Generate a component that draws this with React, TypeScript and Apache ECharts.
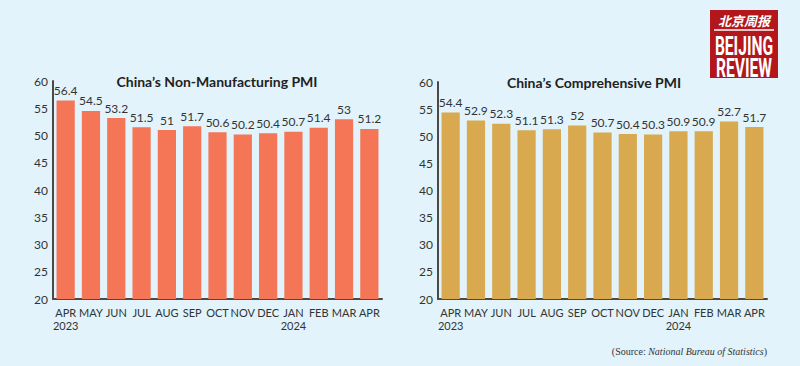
import React, { useEffect, useRef } from "react";
import * as echarts from "echarts";

const months = ["APR\n2023", "MAY", "JUN", "JUL", "AUG", "SEP", "OCT", "NOV", "DEC", "JAN\n2024", "FEB", "MAR", "APR"];
const nonManufacturing = [56.4, 54.5, 53.2, 51.5, 51, 51.7, 50.6, 50.2, 50.4, 50.7, 51.4, 53, 51.2];
const comprehensive = [54.4, 52.9, 52.3, 51.1, 51.3, 52, 50.7, 50.4, 50.3, 50.9, 50.9, 52.7, 51.7];
const titles = ["China\u2019s Non-Manufacturing PMI", "China\u2019s Comprehensive PMI"];
const yMin = 20;
const yMax = 60;
const yStep = 5;

const FONT = "Lato, 'Open Sans', sans-serif";

export default function App() {
  const ref = useRef<HTMLDivElement>(null);
  useEffect(() => {
    if (!ref.current) return;
    const chart = echarts.init(ref.current, null, { renderer: "svg" });
    const grids = [
      { left: 53, top: 81, width: 329, height: 218 },
      { left: 438, top: 82, width: 329, height: 217 },
    ];
    const xAxis = grids.map((_, i) => ({
      type: "category",
      gridIndex: i,
      data: months,
      axisLine: { lineStyle: { color: "#4a4a4a", width: 2 } },
      axisTick: { show: false },
      axisLabel: {
        interval: 0,
        color: "#333",
        fontSize: 11,
        fontFamily: FONT,
        margin: 7,
        lineHeight: 13,
      },
    }));
    const yAxis = grids.map((_, i) => ({
      type: "value",
      gridIndex: i,
      min: yMin,
      max: yMax,
      interval: yStep,
      axisLine: { show: true, lineStyle: { color: "#4a4a4a", width: 2 } },
      axisTick: { show: false },
      splitLine: { show: false },
      axisLabel: { color: "#333", fontSize: 12, fontFamily: FONT, margin: 5 },
    }));
    const mkSeries = (data: number[], i: number, color: string) => ({
      type: "bar",
      xAxisIndex: i,
      yAxisIndex: i,
      data,
      barCategoryGap: "28%",
      itemStyle: { color },
      label: {
        show: true,
        position: "top",
        distance: 4,
        color: "#333",
        fontSize: 12,
        fontFamily: FONT,
      },
    });
    const logoFont = "bold 26px Roboto, 'Liberation Sans', sans-serif";
    chart.setOption({
      animation: false,
      backgroundColor: "#e2f3fb",
      title: [
        {
          text: titles[0],
          left: 212,
          textAlign: "center",
          top: 69,
          textStyle: { fontSize: 14, fontWeight: "bold", color: "#222", fontFamily: FONT },
        },
        {
          text: titles[1],
          left: 589,
          textAlign: "center",
          top: 70,
          textStyle: { fontSize: 14, fontWeight: "bold", color: "#222", fontFamily: FONT },
        },
      ],
      grid: grids,
      xAxis,
      yAxis,
      series: [mkSeries(nonManufacturing, 0, "#f47657"), mkSeries(comprehensive, 1, "#d8a94f")],
      graphic: [
        {
          type: "group",
          left: 710,
          top: 10,
          children: [
            { type: "rect", shape: { x: 0, y: 0, width: 68, height: 68 }, style: { fill: "#b3171c" } },
            {
              type: "text",
              x: 34,
              y: 4,
              style: {
                text: "北京周报",
                fill: "#fff",
                font: "italic bold 13px 'Noto Sans CJK SC'",
                align: "center",
                verticalAlign: "top",
              },
            },
            { type: "line", shape: { x1: 4, y1: 20, x2: 64, y2: 20 }, style: { stroke: "#fff", lineWidth: 1.5 } },
            {
              type: "text",
              x: 34,
              y: 23,
              scaleX: 0.6,
              style: {
                text: "BEIJING",
                fill: "#fff",
                font: logoFont,
                align: "center",
                verticalAlign: "top",
              },
            },
            {
              type: "text",
              x: 34,
              y: 45,
              scaleX: 0.6,
              style: {
                text: "REVIEW",
                fill: "#fff",
                font: logoFont,
                align: "center",
                verticalAlign: "top",
              },
            },
          ],
        },
        {
          type: "text",
          right: 33,
          top: 346,
          style: {
            text: "{n|(Source: }{i|National Bureau of Statistics}{n|)}",
            rich: {
              n: { fontFamily: "'Liberation Serif', serif", fontSize: 10, fill: "#333" },
              i: { fontFamily: "'Liberation Serif', serif", fontSize: 10, fontStyle: "italic", fill: "#333" },
            },
          } as any,
        },
      ],
    });
    return () => chart.dispose();
  }, []);
  return <div ref={ref} style={{ width: 800, height: 366, position: "absolute", left: 0, top: 0 }} />;
}
